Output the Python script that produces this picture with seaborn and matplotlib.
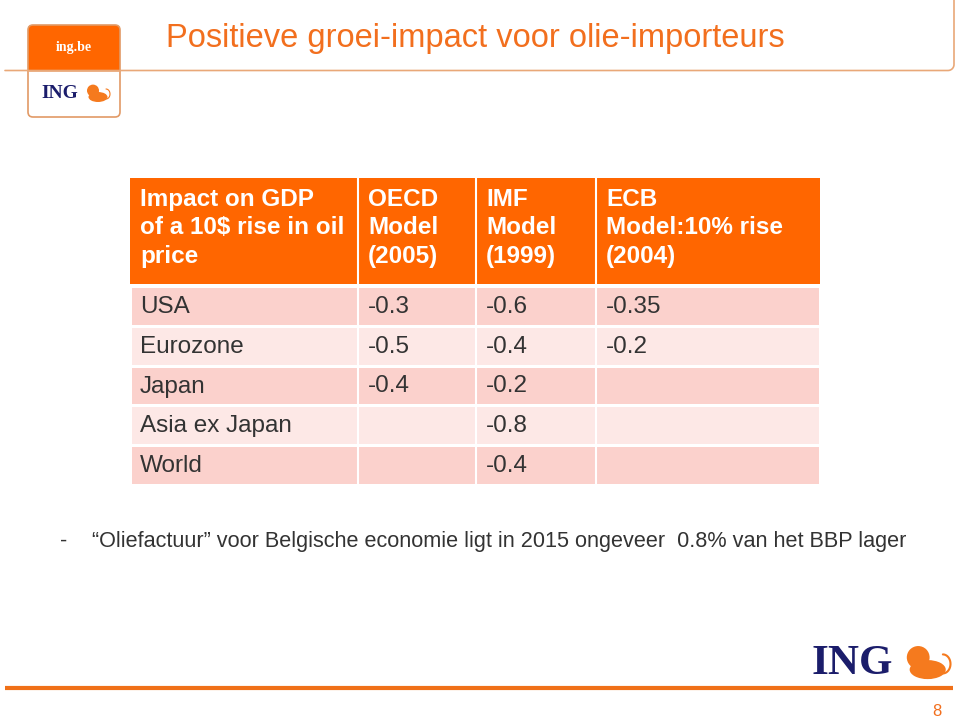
import numpy as np
import matplotlib.pyplot as plt
import seaborn as sns
from matplotlib.colors import ListedColormap
from matplotlib.patches import FancyBboxPatch, Rectangle, Ellipse, Circle

sns.set_theme(style="white")
plt.rcParams['font.family'] = ['Liberation Sans', 'DejaVu Sans']

# data
header = ["Impact on GDP\nof a 10$ rise in oil\nprice", "OECD\nModel\n(2005)",
          "IMF\nModel\n(1999)", "ECB\nModel:10% rise\n(2004)"]
regions = ["USA", "Eurozone", "Japan", "Asia ex Japan", "World"]
oecd = [-0.3, -0.5, -0.4, None, None]
imf = [-0.6, -0.4, -0.2, -0.8, -0.4]
ecb = [-0.35, -0.2, None, None, None]

title = "Positieve groei-impact voor olie-importeurs"
note = "\u201cOliefactuur\u201d voor Belgische economie ligt in 2015 ongeveer  0.8% van het BBP lager"

ORANGE = "#FF6600"
LION = "#F57A1E"
DARK_ROW = "#FBD1CC"
LIGHT_ROW = "#FDE8E6"
TEXT = "#333333"

W, H = 960, 719
fig = plt.figure(figsize=(W / 100, H / 100), dpi=100)
fig.patch.set_facecolor("white")

# table geometry in pixels
tx0, tx1 = 130, 820
col_edges = [130, 358, 476, 596, 820]
head_top, head_bot = 178, 284
body_top, body_bot = 286, 485

def frac_box(x0, y0, x1, y1):
    return [x0 / W, 1 - y1 / H, (x1 - x0) / W, (y1 - y0) / H]

# header band
ax_h = fig.add_axes(frac_box(tx0, head_top, tx1, head_bot))
sns.heatmap(np.zeros((1, 1)), ax=ax_h, cmap=ListedColormap([ORANGE]), cbar=False,
            xticklabels=False, yticklabels=False, linewidths=0)

# body stripes
stripe = np.array([[i % 2] for i in range(len(regions))])
ax_b = fig.add_axes(frac_box(tx0, body_top, tx1, body_bot))
sns.heatmap(stripe, ax=ax_b, cmap=ListedColormap([DARK_ROW, LIGHT_ROW]), cbar=False,
            xticklabels=False, yticklabels=False, linewidths=2, linecolor="white")

# overlay axes in pixel coords
ax = fig.add_axes([0, 0, 1, 1], facecolor="none")
ax.set_xlim(0, W)
ax.set_ylim(H, 0)
ax.axis("off")

for x in col_edges[1:-1]:
    ax.plot([x, x], [head_top, body_bot], color="white", lw=1.5)

text_x = [e + 10 for e in col_edges[:-1]]
for x, lab in zip(text_x, header):
    ax.text(x, 228, lab, color="white", fontsize=17.5, fontweight="bold",
            va="center", ha="left", linespacing=1.32)

row_h = (body_bot - body_top) / len(regions)
for i, reg in enumerate(regions):
    yc = body_top + row_h * (i + 0.5) + 1
    ax.text(text_x[0], yc, reg, color=TEXT, fontsize=17.5, va="center")
    for x, col in zip(text_x[1:], [oecd, imf, ecb]):
        if col[i] is not None:
            ax.text(x, yc, f"{col[i]:g}", color=TEXT, fontsize=17.5, va="center")

# title
ax.text(166, 38, title, color="#F26F1E", fontsize=23.5, va="center", ha="left")

# top rule with rounded corner
ang = np.linspace(np.pi / 2, 0, 10)
cx, cy, r = 948, 64.5, 6
xs = [5] + list(cx + r * np.cos(ang)) + [954]
ys = [70.5] + list(cy + r * np.sin(ang)) + [0]
ax.plot(xs, ys, color="#E9A878", lw=1.2)


def lion(x, y, s):
    # rough lion mark: body, head, tail
    ax.add_patch(Ellipse((x + 0.15 * s, y + 0.2 * s), 0.95 * s, 0.5 * s,
                         facecolor=LION, edgecolor="none"))
    ax.add_patch(Circle((x - 0.1 * s, y - 0.12 * s), 0.3 * s,
                        facecolor=LION, edgecolor="none"))
    t = np.linspace(-0.6 * np.pi, 0.5 * np.pi, 20)
    ax.plot(x + 0.55 * s + 0.2 * s * np.cos(t), y + 0.05 * s - 0.25 * s * np.sin(t),
            color=LION, lw=max(0.8, s / 25))


# logo box top left
ax.add_patch(FancyBboxPatch((28, 25), 92, 92, boxstyle="round,pad=0,rounding_size=5",
                            facecolor="white", edgecolor="none"))
ax.add_patch(FancyBboxPatch((28, 25), 92, 55, boxstyle="round,pad=0,rounding_size=5",
                            facecolor=ORANGE, edgecolor="none"))
ax.add_patch(Rectangle((27, 71), 94, 12, facecolor="white", edgecolor="none"))
ax.add_patch(FancyBboxPatch((28, 25), 92, 92, boxstyle="round,pad=0,rounding_size=5",
                            facecolor="none", edgecolor="#E29A66", lw=1.2))
ax.plot([28, 120], [70.5, 70.5], color="#E9A878", lw=1.2)
ax.text(74, 48, "ing.be", color="white", fontsize=10, fontweight="bold",
        ha="center", va="center", family="Liberation Serif")
ax.text(60, 94, "ING", color="#1B1D6B", fontsize=14, fontweight="bold",
        ha="center", va="center", family="Liberation Serif")
lion(95, 93, 20)

# bullet note
ax.text(60, 541, "-", color=TEXT, fontsize=15.6, va="center")
ax.text(92, 541, note, color=TEXT, fontsize=15.6, va="center")

# footer
ax.plot([5, 953], [688, 688], color="#F07018", lw=3, solid_capstyle="butt")
ax.text(852, 664, "ING", color="#1B1D6B", fontsize=31, fontweight="bold",
        ha="center", va="center", family="Liberation Serif")
lion(922, 662, 38)
ax.text(937, 711, "8", color="#F26F1E", fontsize=12, ha="center", va="center")

fig.savefig("out.png", dpi=100)
